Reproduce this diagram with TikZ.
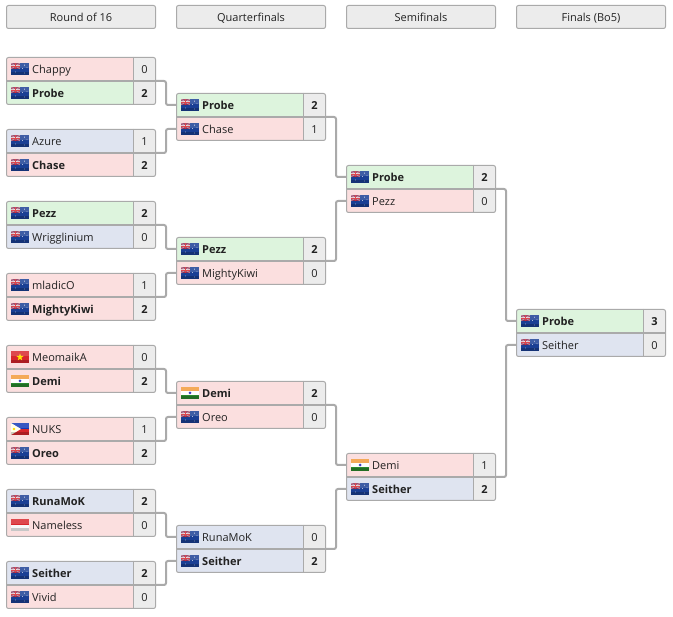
\documentclass[tikz,border=0pt]{standalone}
\usepackage{fontspec}
\setmainfont{Open Sans}
\definecolor{rowred}{HTML}{FBDFDF}
\definecolor{rowgreen}{HTML}{DDF4DD}
\definecolor{rowblue}{HTML}{DFE4F0}
\definecolor{cellgrey}{HTML}{ECECEC}
\definecolor{edgegrey}{HTML}{AAAAAA}
\definecolor{inkgrey}{HTML}{222222}
\definecolor{auBlue}{HTML}{1A3F94}
\definecolor{flagRed}{HTML}{D8262C}
\definecolor{flagOrange}{HTML}{F39A3A}
\definecolor{flagGreen}{HTML}{2B8A2F}
\definecolor{phBlue}{HTML}{1238B8}
\tikzset{
  rowbox/.style={inner sep=0pt,outer sep=0pt,minimum height=24,minimum width=127,anchor=north west},
  scorebox/.style={fill=cellgrey,inner sep=0pt,outer sep=0pt,minimum height=24,minimum width=23,anchor=north west,text=inkgrey,text height=9.5pt,text depth=0pt,font=\fontsize{11}{13}\selectfont},
  nametext/.style={anchor=base west,inner sep=0pt,text=inkgrey,font=\fontsize{11}{13}\selectfont},
  frame/.style={draw=edgegrey,line width=1pt,rounded corners=2pt},
  wire/.style={draw=edgegrey,line width=2pt,rounded corners=2pt},
  header/.style={draw=edgegrey,line width=1pt,fill=cellgrey,rounded corners=2pt,inner sep=0pt,outer sep=0pt,minimum width=149,minimum height=23,anchor=north west,text=inkgrey,text height=9.5pt,text depth=0pt,font=\fontsize{11}{13}\selectfont},
}
\newcommand{\glossflag}{%
  \fill[white,opacity=.16] (0,0) rectangle (18,5);
  \fill[black,opacity=.2] (0,9) rectangle (18,12);
}
\newcommand{\starat}[3]{\fill[#3] (#1,#2) circle (.45);}
\newcommand{\flagAU}{%
  \fill[auBlue] (0,0) rectangle (18,12);
  \fill[flagRed!60!auBlue] (0,0) rectangle (9,6);
  \draw[white,opacity=.45,line width=.6pt] (0,0) -- (9,6) (0,6) -- (9,0);
  \draw[white,opacity=.7,line width=1.1pt] (4.5,0) -- (4.5,6) (0,3) -- (9,3);
  \draw[flagRed,line width=.5pt] (4.5,0) -- (4.5,6) (0,3) -- (9,3);
  \starat{4.5}{9}{white}\starat{13.5}{2.2}{white}\starat{16}{4.8}{white}\starat{11.5}{5.5}{white}\starat{13.5}{10}{white}
}
\newcommand{\flagIN}{%
  \fill[flagOrange] (0,0) rectangle (18,4);
  \fill[white] (0,4) rectangle (18,8);
  \fill[flagGreen] (0,8) rectangle (18,12);
  \fill[blue!50!gray] (9,6) circle (1.5);
}
\newcommand{\flagVN}{%
  \fill[flagRed] (0,0) rectangle (18,12);
  \fill[yellow!90!orange] (9,2.4) -- (9.9,5) -- (12.6,5) -- (10.4,6.7) -- (11.2,9.4) -- (9,7.8) -- (6.8,9.4) -- (7.6,6.7) -- (5.4,5) -- (8.1,5) -- cycle;
}
\newcommand{\flagPH}{%
  \fill[phBlue] (0,0) rectangle (18,6);
  \fill[flagRed] (0,6) rectangle (18,12);
  \fill[white!92!yellow] (0,0) -- (10,6) -- (0,12) -- cycle;
  \fill[yellow!80!orange] (3,6) circle (1.3);
}
\newcommand{\flagSG}{%
  \fill[flagRed] (0,0) rectangle (18,6);
  \fill[white!95!gray] (0,6) rectangle (18,12);
}
% \rowentry{name}{x}{y}{fill}{flag}{text}{score}
\newcommand{\rowentry}[7]{%
  \node[rowbox,fill=#4] (#1) at (#2,#3) {};
  \node[scorebox] (#1s) at (#2+127,#3) {#7};
  \begin{scope}[shift={(#2+5,#3+6)}]
    \csname flag#5\endcsname
    \glossflag
  \end{scope}
  \node[nametext] (#1n) at (#2+26,#3+16.75) {#6};
}
\newcommand{\game}[4]{%
  \node[inner sep=0pt,outer sep=0pt,minimum width=150,minimum height=48,anchor=north west] (#1) at (#2,#3) {};
  \begin{scope}
    \clip[rounded corners=2pt] (#2+.5,#3+.5) rectangle (#2+149.5,#3+47.5);
    #4
  \end{scope}
  \draw[frame] (#2+.5,#3+.5) rectangle (#2+149.5,#3+47.5);
  \draw[edgegrey,line width=1pt] (#2+127.5,#3) -- (#2+127.5,#3+48);
  \draw[edgegrey,line width=2pt] (#2,#3+24) -- (#2+150,#3+24);
}
\newcommand{\B}[1]{\textbf{#1}}
\begin{document}
\begin{tikzpicture}[x=1pt,y=-1pt]
\useasboundingbox (0,0) rectangle (673,617);
\fill[white] (0,0) rectangle (673,617);

\node[header] (h1) at (6.5,5.5) {Round of 16};
\node[header] (h2) at (176.5,5.5) {Quarterfinals};
\node[header] (h3) at (346.5,5.5) {Semifinals};
\node[header] (h4) at (516.5,5.5) {Finals (Bo5)};

% Round of 16
\game{a}{6}{57}{\rowentry{aa}{6}{57}{rowred}{AU}{Chappy}{0}\rowentry{ab}{6}{81}{rowgreen}{AU}{\B{Probe}}{\B{2}}}
\game{b}{6}{129}{\rowentry{ba}{6}{129}{rowblue}{AU}{Azure}{1}\rowentry{bb}{6}{153}{rowred}{AU}{\B{Chase}}{\B{2}}}
\game{c}{6}{201}{\rowentry{ca}{6}{201}{rowgreen}{AU}{\B{Pezz}}{\B{2}}\rowentry{cb}{6}{225}{rowblue}{AU}{Wrigglinium}{0}}
\game{d}{6}{273}{\rowentry{da}{6}{273}{rowred}{AU}{mladicO}{1}\rowentry{db}{6}{297}{rowred}{AU}{\B{MightyKiwi}}{\B{2}}}
\game{e}{6}{345}{\rowentry{ea}{6}{345}{rowred}{VN}{MeomaikA}{0}\rowentry{eb}{6}{369}{rowred}{IN}{\B{Demi}}{\B{2}}}
\game{f}{6}{417}{\rowentry{fa}{6}{417}{rowred}{PH}{NUKS}{1}\rowentry{fb}{6}{441}{rowred}{AU}{\B{Oreo}}{\B{2}}}
\game{g}{6}{489}{\rowentry{ga}{6}{489}{rowblue}{AU}{\B{RunaMoK}}{\B{2}}\rowentry{gb}{6}{513}{rowred}{SG}{Nameless}{0}}
\game{i}{6}{561}{\rowentry{ia}{6}{561}{rowblue}{AU}{\B{Seither}}{\B{2}}\rowentry{ib}{6}{585}{rowred}{AU}{Vivid}{0}}

% Quarterfinals
\game{q}{176}{93}{\rowentry{qa}{176}{93}{rowgreen}{AU}{\B{Probe}}{\B{2}}\rowentry{qb}{176}{117}{rowred}{AU}{Chase}{1}}
\game{r}{176}{237}{\rowentry{ra}{176}{237}{rowgreen}{AU}{\B{Pezz}}{\B{2}}\rowentry{rb}{176}{261}{rowred}{AU}{MightyKiwi}{0}}
\game{s}{176}{381}{\rowentry{sa}{176}{381}{rowred}{IN}{\B{Demi}}{\B{2}}\rowentry{sb}{176}{405}{rowred}{AU}{Oreo}{0}}
\game{t}{176}{525}{\rowentry{ta}{176}{525}{rowblue}{AU}{RunaMoK}{0}\rowentry{tb}{176}{549}{rowblue}{AU}{\B{Seither}}{\B{2}}}

% Semifinals
\game{u}{346}{165}{\rowentry{ua}{346}{165}{rowgreen}{AU}{\B{Probe}}{\B{2}}\rowentry{ub}{346}{189}{rowred}{AU}{Pezz}{0}}
\game{v}{346}{453}{\rowentry{va}{346}{453}{rowred}{IN}{Demi}{1}\rowentry{vb}{346}{477}{rowblue}{AU}{\B{Seither}}{\B{2}}}

% Final
\game{w}{516}{309}{\rowentry{wa}{516}{309}{rowgreen}{AU}{\B{Probe}}{\B{3}}\rowentry{wb}{516}{333}{rowblue}{AU}{Seither}{0}}

% Connectors
\foreach \src/\dst in {a/qa,b/qb,c/ra,d/rb,e/sa,f/sb,g/ta,i/tb,q/ua,r/ub,s/va,t/vb,u/wa,v/wb}{
  \draw[wire] (\src.east) -- ++(10,0) |- (\dst.west);
}
\end{tikzpicture}
\end{document}
